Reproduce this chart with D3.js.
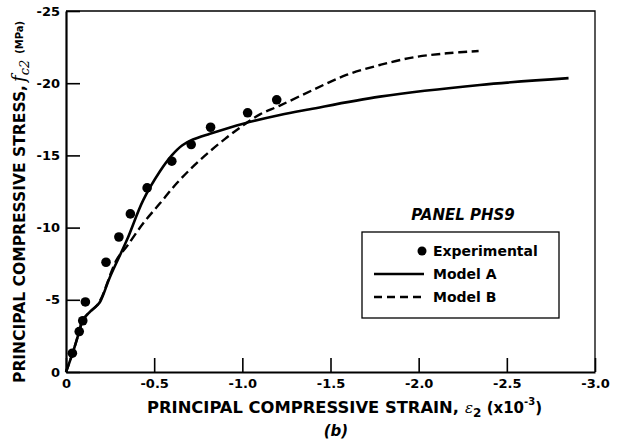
<!DOCTYPE html>
<html>
<head>
<meta charset="utf-8">
<script src="https://cdn.jsdelivr.net/npm/d3@7"></script>
<style>
  body { margin: 0; background: #fff; }
  svg { font-family: "DejaVu Sans", Arial, Helvetica, sans-serif; font-weight: bold; }
</style>
</head>
<body>
<div id="chart"></div>
<script>
// values (strain x10^-3, stress MPa)
var xTicks = [0, -0.5, -1.0, -1.5, -2.0, -2.5, -3.0]
var yTicks = [0, -5, -10, -15, -20, -25]

var expStrain = [-0.036, -0.075, -0.095, -0.11, -0.227, -0.30, -0.365, -0.46, -0.60, -0.71, -0.82, -1.03, -1.195]
var expStress = [-1.3, -2.8, -3.55, -4.85, -7.6, -9.35, -10.95, -12.75, -14.6, -15.75, -16.95, -17.95, -18.85]

var modelAStrain = [0, -0.04, -0.075, -0.095, -0.13, -0.175, -0.195, -0.25, -0.344, -0.438, -0.533, -0.60, -0.66, -0.72, -0.816, -1.005, -1.213, -1.383, -1.78, -2.347, -2.85]
var modelAStress = [0, -1.4, -2.8, -3.6, -4.1, -4.6, -4.9, -6.6, -9.1, -11.9, -13.9, -15.0, -15.7, -16.1, -16.5, -17.2, -17.8, -18.2, -19.07, -19.88, -20.35]

var modelBStrain = [0, -0.04, -0.075, -0.095, -0.13, -0.175, -0.2, -0.287, -0.344, -0.438, -0.533, -0.628, -0.72, -0.816, -0.91, -1.005, -1.1, -1.213, -1.4, -1.59, -1.78, -1.97, -2.16, -2.34]
var modelBStress = [0, -1.4, -2.8, -3.6, -4.1, -4.6, -5.1, -7.76, -8.68, -10.3, -11.68, -13.07, -14.22, -15.28, -16.22, -17.08, -17.84, -18.45, -19.53, -20.57, -21.26, -21.79, -22.07, -22.23]

var legendLabels = ["Experimental", "Model A", "Model B"]

var width = 620, height = 447
var margin = { top: 11, right: 25, bottom: 75, left: 66 }

var svg = d3.select("#chart").append("svg")
    .attr("width", width)
    .attr("height", height)

var x = d3.scaleLinear().domain([0, -3]).range([margin.left, width - margin.right])
var y = d3.scaleLinear().domain([0, -25]).range([height - margin.bottom, margin.top])

var fmt = function (d) { return d === 0 ? "0" : d.toFixed(1) }

// frame top + right
svg.append("path")
    .attr("d", "M" + x(0) + "," + y(-25) + "H" + x(-3) + "V" + y(0))
    .attr("fill", "none")
    .attr("stroke", "#000")
    .attr("stroke-width", 1.3)

// x axis
var gx = svg.append("g")
    .attr("transform", "translate(0," + y(0) + ")")
    .call(d3.axisBottom(x).tickValues(xTicks).tickFormat(fmt).tickSize(-14).tickSizeOuter(0).tickPadding(7))
gx.select(".domain").attr("stroke-width", 2.2)
gx.selectAll(".tick line").attr("stroke-width", 1.6)
gx.selectAll(".tick text").attr("font-size", 13).attr("fill", "#000")
    .attr("font-family", "DejaVu Sans, Arial, sans-serif").attr("font-weight", "bold")

// y axis
var gy = svg.append("g")
    .attr("transform", "translate(" + x(0) + ",0)")
    .call(d3.axisLeft(y).tickValues(yTicks).tickFormat(function (d) { return d === 0 ? "0" : d }).tickSize(-14).tickSizeOuter(0).tickPadding(6))
gy.select(".domain").attr("stroke-width", 2.2)
gy.selectAll(".tick line").attr("stroke-width", 1.6)
gy.selectAll(".tick text").attr("font-size", 13).attr("fill", "#000")
    .attr("font-family", "DejaVu Sans, Arial, sans-serif").attr("font-weight", "bold")

// curves
var line = d3.line()
    .x(function (d) { return x(d[0]) })
    .y(function (d) { return y(d[1]) })
    .curve(d3.curveCatmullRom.alpha(0.5))

var modelA = modelAStrain.map(function (s, i) { return [s, modelAStress[i]] })
var modelB = modelBStrain.map(function (s, i) { return [s, modelBStress[i]] })

svg.append("path")
    .datum(modelB)
    .attr("d", line)
    .attr("fill", "none")
    .attr("stroke", "#000")
    .attr("stroke-width", 2.4)
    .attr("stroke-dasharray", "9,4.5")

svg.append("path")
    .datum(modelA)
    .attr("d", line)
    .attr("fill", "none")
    .attr("stroke", "#000")
    .attr("stroke-width", 2.6)

svg.selectAll(".dot")
    .data(expStrain)
    .enter().append("circle")
    .attr("class", "dot")
    .attr("cx", function (d) { return x(d) })
    .attr("cy", function (d, i) { return y(expStress[i]) })
    .attr("r", 4.8)
    .attr("fill", "#000")

// legend
svg.append("text")
    .attr("x", 463).attr("y", 220)
    .attr("text-anchor", "middle")
    .attr("font-size", 15)
    .attr("font-style", "italic")
    .text("PANEL PHS9")

svg.append("rect")
    .attr("x", 362).attr("y", 232)
    .attr("width", 197).attr("height", 86)
    .attr("fill", "#fff")
    .attr("stroke", "#000")
    .attr("stroke-width", 1.3)

var rowY = [251, 274, 297]
var lg = svg.append("g")
lg.append("circle").attr("cx", 422).attr("cy", rowY[0]).attr("r", 4.5).attr("fill", "#000")
lg.append("line").attr("x1", 374).attr("x2", 424).attr("y1", rowY[1]).attr("y2", rowY[1])
    .attr("stroke", "#000").attr("stroke-width", 2.6)
lg.append("line").attr("x1", 374).attr("x2", 424).attr("y1", rowY[2]).attr("y2", rowY[2])
    .attr("stroke", "#000").attr("stroke-width", 2.4).attr("stroke-dasharray", "8,5")
lg.selectAll(".lab")
    .data(legendLabels)
    .enter().append("text")
    .attr("class", "lab")
    .attr("x", 433)
    .attr("y", function (d, i) { return rowY[i] + 5 })
    .attr("font-size", 14)
    .text(function (d) { return d })

// x label
svg.append("text")
    .attr("x", 147).attr("y", 413)
    .attr("font-size", 15)
    .attr("textLength", 312)
    .attr("lengthAdjust", "spacingAndGlyphs")
    .text("PRINCIPAL COMPRESSIVE STRAIN,")
var xl = svg.append("text")
    .attr("x", 465).attr("y", 413)
    .attr("font-size", 15)
xl.append("tspan").attr("font-style", "italic").attr("font-weight", "normal").attr("font-family", "DejaVu Serif, serif").text("\u03b5")
xl.append("tspan").attr("font-size", 12).attr("dy", 4).text("2")
xl.append("tspan").attr("dy", -4).text(" (x10")
xl.append("tspan").attr("font-size", 10).attr("dy", -8).text("-3")
xl.append("tspan").attr("dy", 8).text(")")

svg.append("text")
    .attr("x", 336).attr("y", 436)
    .attr("text-anchor", "middle")
    .attr("font-size", 15)
    .attr("font-style", "italic")
    .text("(b)")

// y label
svg.append("text")
    .attr("transform", "translate(25,383) rotate(-90)")
    .attr("font-size", 15)
    .attr("textLength", 298)
    .attr("lengthAdjust", "spacingAndGlyphs")
    .text("PRINCIPAL COMPRESSIVE STRESS,")
var yl = svg.append("text")
    .attr("transform", "translate(25,82) rotate(-90)")
    .attr("font-size", 15)
yl.append("tspan").attr("font-style", "italic").attr("font-family", "DejaVu Serif, serif").attr("font-weight", "normal").attr("font-size", 18).text("f")
yl.append("tspan").attr("font-style", "italic").attr("font-size", 13).attr("dy", 4).attr("font-weight", "normal").attr("font-family", "DejaVu Serif, serif").text("c2")
yl.append("tspan").attr("font-size", 10).attr("dy", -6).attr("dx", 6).text("(MPa)")
</script>
</body>
</html>
